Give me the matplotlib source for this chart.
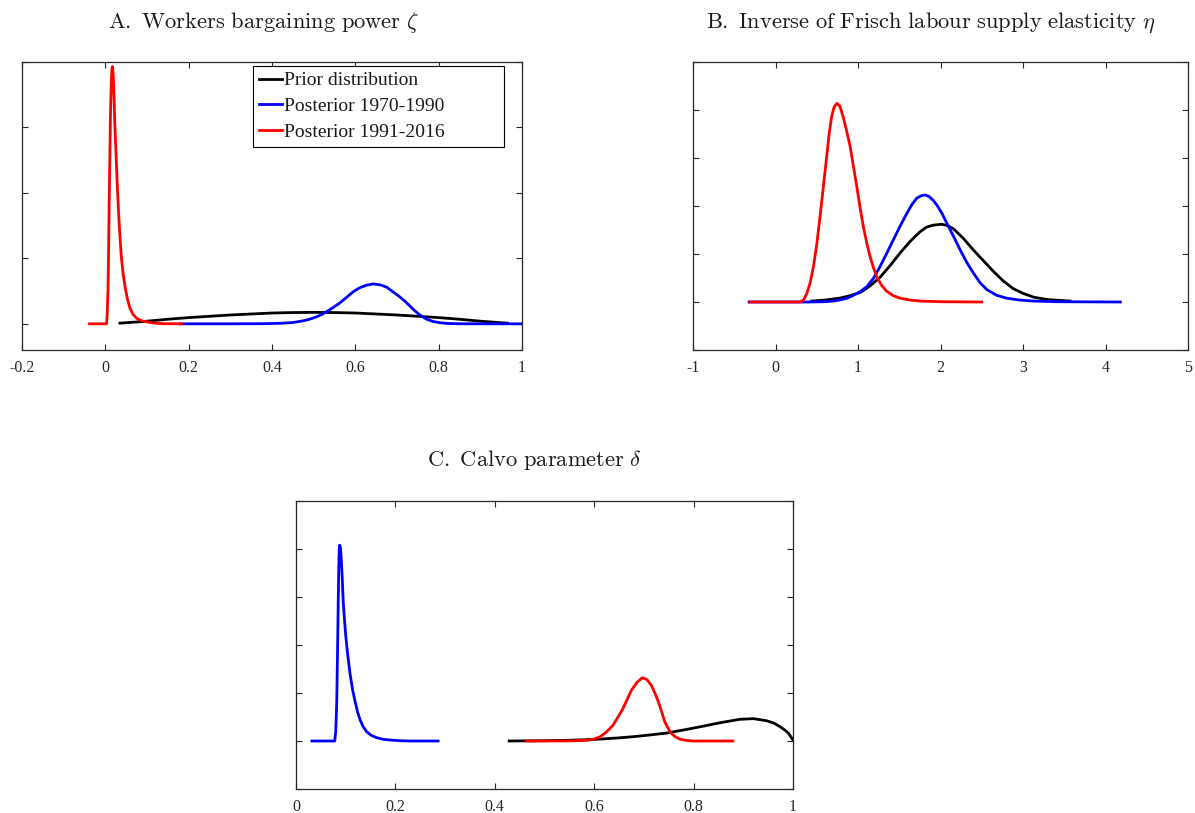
import matplotlib
matplotlib.use("Agg")
import matplotlib.pyplot as plt

plt.rcParams['font.family'] = ['Liberation Serif', 'DejaVu Serif']
plt.rcParams['mathtext.fontset'] = 'cm'
plt.rcParams['axes.unicode_minus'] = False

# ---------------- data ----------------
# Panel A: Workers bargaining power zeta
a_prior_x = [0.035, 0.10, 0.15, 0.20, 0.25, 0.30, 0.35, 0.40, 0.45, 0.50, 0.55, 0.60, 0.65, 0.70, 0.75, 0.80, 0.85, 0.90, 0.965]
a_prior_y = [0.10, 0.40, 0.70, 0.95, 1.15, 1.35, 1.50, 1.65, 1.72, 1.75, 1.72, 1.65, 1.50, 1.35, 1.15, 0.95, 0.70, 0.40, 0.10]
a_post1_x = [0.18, 0.30, 0.38, 0.42, 0.45, 0.47, 0.483, 0.495, 0.51, 0.52, 0.531, 0.547, 0.563, 0.58, 0.595, 0.61, 0.627,
             0.643, 0.66, 0.675, 0.69, 0.707, 0.72, 0.739, 0.755, 0.771, 0.787, 0.803, 0.82, 0.85, 0.90, 1.0]
a_post1_y = [0.0, 0.0, 0.02, 0.08, 0.2, 0.4, 0.58, 0.8, 1.15, 1.45, 1.85, 2.5, 3.2, 4.1, 4.9, 5.5, 5.9,
             6.1, 5.95, 5.6, 4.9, 4.1, 3.4, 2.2, 1.35, 0.7, 0.35, 0.17, 0.06, 0.01, 0.0, 0.0]
a_post2_x = [-0.038, 0.003, 0.0045, 0.0065, 0.008, 0.0097, 0.011, 0.012, 0.0135, 0.015, 0.016, 0.017, 0.019, 0.021,
             0.0225, 0.025, 0.029, 0.033, 0.038, 0.043, 0.048, 0.053, 0.059, 0.066, 0.075, 0.086, 0.099, 0.115, 0.13,
             0.15, 0.183]
a_post2_y = [0.0, 0.0, 1.5, 5.4, 12.0, 20.7, 26.0, 31.0, 35.0, 38.0, 39.0, 39.3, 38.0, 34.5,
             31.0, 27.0, 20.7, 15.5, 10.5, 7.5, 5.4, 3.8, 2.4, 1.5, 0.84, 0.5, 0.3, 0.12, 0.05,
             0.01, 0.0]

# Panel B: Inverse of Frisch labour supply elasticity eta
b_prior_x = [0.44, 0.60, 0.78, 0.90, 1.03, 1.15, 1.27, 1.39, 1.51, 1.63, 1.75, 1.83, 1.91, 2.01, 2.09, 2.16, 2.28,
             2.40, 2.52, 2.64, 2.76, 2.88, 3.00, 3.13, 3.30, 3.57]
b_prior_y = [0.01, 0.02, 0.04, 0.065, 0.10, 0.17, 0.26, 0.38, 0.51, 0.63, 0.73, 0.78, 0.80, 0.81, 0.795, 0.76, 0.66,
             0.54, 0.43, 0.32, 0.22, 0.14, 0.09, 0.05, 0.025, 0.01]
b_post1_x = [-0.32, 0.40, 0.60, 0.70, 0.80, 0.87, 0.945, 1.03, 1.107, 1.19, 1.268, 1.35, 1.43, 1.51, 1.59, 1.65, 1.71,
             1.76, 1.81, 1.86, 1.91, 1.956, 2.02, 2.077, 2.16, 2.24, 2.32, 2.40, 2.48, 2.56, 2.68, 2.80, 2.96, 3.12,
             3.40, 4.18]
b_post1_y = [0.0, 0.0, 0.003, 0.01, 0.025, 0.04, 0.07, 0.11, 0.16, 0.25, 0.37, 0.51, 0.65, 0.79, 0.92, 1.01, 1.08,
             1.105, 1.115, 1.10, 1.06, 1.01, 0.92, 0.82, 0.68, 0.54, 0.41, 0.30, 0.20, 0.13, 0.07, 0.04, 0.02, 0.01,
             0.003, 0.0]
b_post2_x = [-0.31, 0.30, 0.34, 0.38, 0.42, 0.46, 0.50, 0.54, 0.58, 0.62, 0.65, 0.68, 0.71, 0.744, 0.78, 0.82, 0.86,
             0.905, 0.945, 0.986, 1.026, 1.066, 1.107, 1.147, 1.19, 1.228, 1.29, 1.35, 1.43, 1.51, 1.63, 1.75, 2.00,
             2.50]
b_post2_y = [0.0, 0.0, 0.02, 0.09, 0.20, 0.37, 0.60, 0.89, 1.20, 1.51, 1.75, 1.93, 2.03, 2.07, 2.04, 1.93, 1.79,
             1.62, 1.41, 1.20, 0.98, 0.78, 0.61, 0.47, 0.35, 0.26, 0.17, 0.11, 0.065, 0.04, 0.02, 0.01, 0.003,
             0.0]

# Panel C: Calvo parameter delta
c_prior_x = [0.429, 0.50, 0.545, 0.58, 0.612, 0.645, 0.679, 0.712, 0.746, 0.78, 0.813, 0.853, 0.893, 0.92, 0.947,
             0.962, 0.974, 0.984, 0.991, 0.999]
c_prior_y = [0.0, 0.03, 0.07, 0.13, 0.20, 0.31, 0.45, 0.63, 0.83, 1.15, 1.48, 1.90, 2.26, 2.33, 2.11,
             1.85, 1.49, 1.12, 0.80, 0.18]
c_post1_x = [0.032, 0.078, 0.080, 0.082, 0.0835, 0.085, 0.086, 0.087, 0.088, 0.0895, 0.091, 0.093, 0.095, 0.0975,
             0.100, 0.104, 0.109, 0.114, 0.119, 0.124, 0.129, 0.135, 0.142, 0.151, 0.162, 0.175, 0.189, 0.21, 0.23,
             0.286]
c_post1_y = [0.0, 0.0, 1.0, 4.1, 9.0, 14.5, 18.0, 19.9, 20.4, 20.1, 19.0, 17.0, 14.5, 12.7,
             11.0, 9.0, 6.9, 5.3, 4.1, 3.0, 2.2, 1.5, 0.97, 0.6, 0.35, 0.18, 0.1, 0.03, 0.0,
             0.0]
c_post2_x = [0.463, 0.55, 0.586, 0.60, 0.612, 0.625, 0.638, 0.648, 0.658, 0.667, 0.675, 0.686, 0.697, 0.706, 0.715,
             0.722, 0.729, 0.736, 0.742, 0.749, 0.755, 0.763, 0.772, 0.785, 0.799, 0.879]
c_post2_y = [0.0, 0.01, 0.07, 0.2, 0.45, 0.95, 1.66, 2.5, 3.4, 4.4, 5.3, 6.1, 6.6, 6.4, 5.8,
             5.0, 4.1, 3.0, 2.0, 1.3, 0.8, 0.45, 0.2, 0.06, 0.0, 0.0]

labels = ['Prior distribution', 'Posterior 1970-1990', 'Posterior 1991-2016']
titles = [r'$\mathrm{A.\ Workers\ bargaining\ power}\ \zeta$',
          r'$\mathrm{B.\ Inverse\ of\ Frisch\ labour\ supply\ elasticity}\ \eta$',
          r'$\mathrm{C.\ Calvo\ parameter}\ \delta$']
a_xticks = [-0.2, 0, 0.2, 0.4, 0.6, 0.8, 1]
b_xticks = [-1, 0, 1, 2, 3, 4, 5]
c_xticks = [0, 0.2, 0.4, 0.6, 0.8, 1]

# ---------------- layout ----------------
W, H = 1195, 813
fig = plt.figure(figsize=(W / 100, H / 100), dpi=100)

def px_axes(left, top, right, bottom):
    return fig.add_axes([left / W, 1 - bottom / H, (right - left) / W, (bottom - top) / H])

spine_col = '#262626'
def style(ax, xlim, ylim, xticks, yticks):
    ax.set_xlim(*xlim)
    ax.set_ylim(*ylim)
    ax.set_xticks(xticks)
    ax.set_xticklabels([('%g' % v) for v in xticks])
    ax.set_yticks(yticks)
    ax.set_yticklabels([])
    ax.tick_params(direction='in', top=True, right=True, length=4, width=0.8,
                   color=spine_col, labelsize=11.5, pad=7, labelcolor='#262626')
    for s in ax.spines.values():
        s.set_color(spine_col)
        s.set_linewidth(0.9)

lw = 2.0
axA = px_axes(22, 62, 522, 350)
l1, = axA.plot(a_prior_x, a_prior_y, color='k', lw=lw)
l2, = axA.plot(a_post1_x, a_post1_y, color='b', lw=lw)
l3, = axA.plot(a_post2_x, a_post2_y, color='r', lw=lw)
style(axA, (-0.2, 1), (-4, 40), a_xticks, [0, 10, 20, 30, 40])
bx0, bx1, by0, by1 = 253, 504, 66, 142
leg = axA.legend([l1, l2, l3], labels, loc='upper left',
                 bbox_to_anchor=((bx0 - 22) / 500, 1 - (by1 - 62) / 288,
                                 (bx1 - bx0) / 500, (by1 - by0) / 288),
                 mode='expand', borderaxespad=0, fancybox=False, framealpha=1, edgecolor='k',
                 handlelength=1.2, handletextpad=0.1, borderpad=0.3,
                 labelspacing=0.42, fontsize=14)
leg.get_frame().set_linewidth(0.8)
for t in leg.get_texts():
    t.set_color('#1a1a1a')

axB = px_axes(693, 62, 1188, 350)
axB.plot(b_prior_x, b_prior_y, color='k', lw=lw)
axB.plot(b_post1_x, b_post1_y, color='b', lw=lw)
axB.plot(b_post2_x, b_post2_y, color='r', lw=lw)
style(axB, (-1, 5), (-0.5, 2.5), b_xticks, [-0.5, 0, 0.5, 1, 1.5, 2, 2.5])

axC = px_axes(296, 501, 793, 789)
axC.plot(c_prior_x, c_prior_y, color='k', lw=lw)
axC.plot(c_post1_x, c_post1_y, color='b', lw=lw)
axC.plot(c_post2_x, c_post2_y, color='r', lw=lw)
style(axC, (0, 1), (-5, 25), c_xticks, [-5, 0, 5, 10, 15, 20, 25])

for (cx, by), t in zip([(263, 28), (931, 28), (535, 466)], titles):
    fig.text(cx / W, 1 - by / H, t, ha='center', va='baseline', fontsize=16.2, color='#1a1a1a')

fig.savefig('out.png', dpi=100)
